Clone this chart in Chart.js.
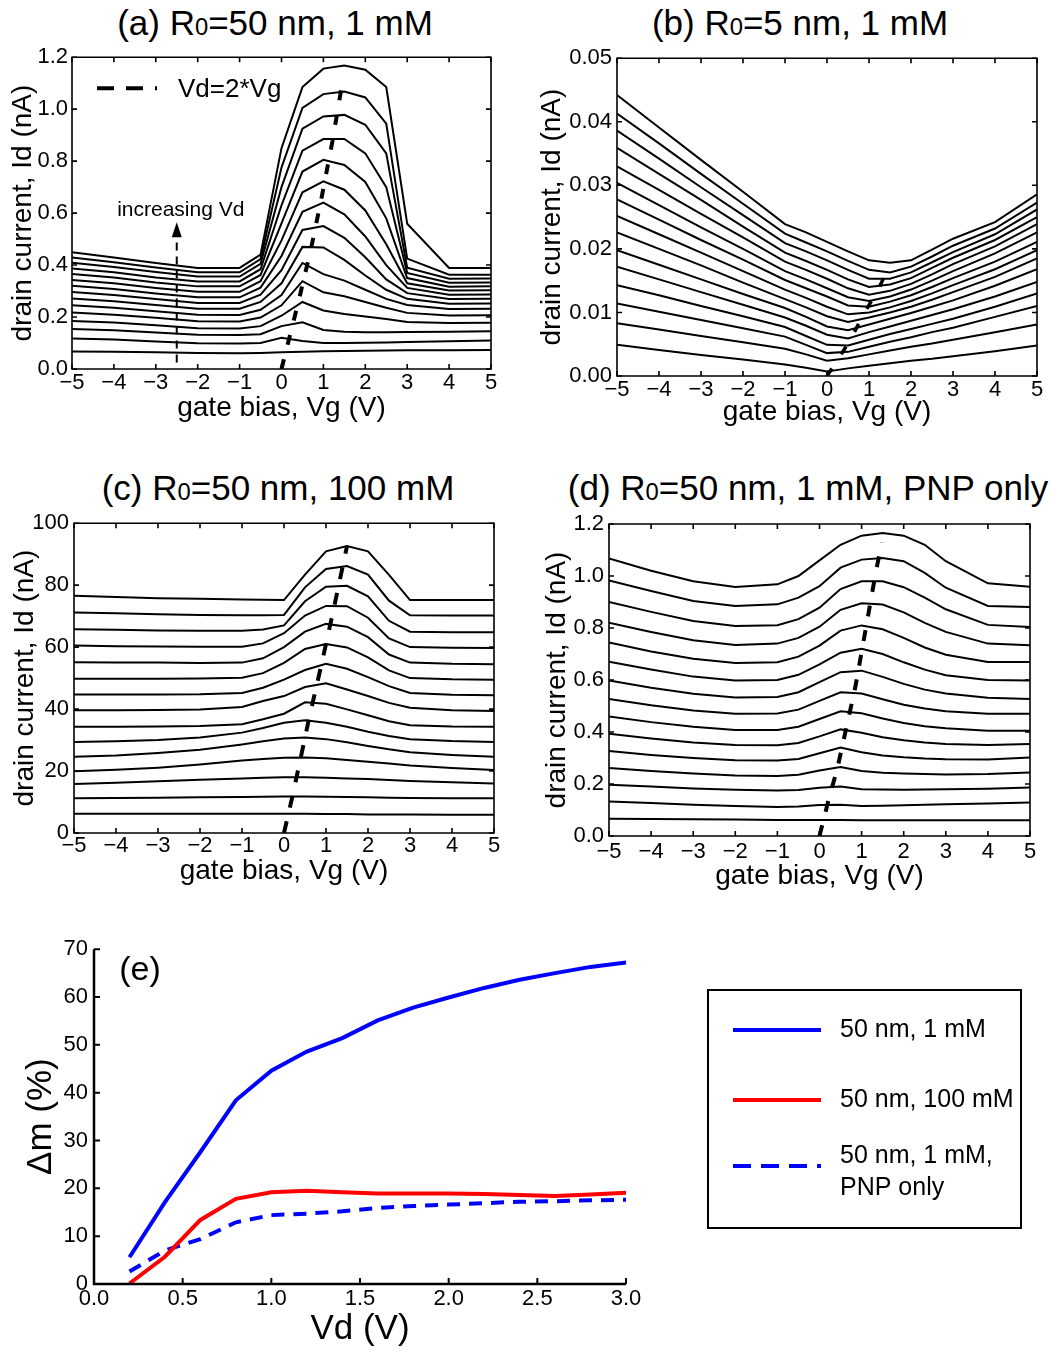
<!DOCTYPE html>
<html><head><meta charset="utf-8">
<script src="https://cdn.jsdelivr.net/npm/chart.js@4.4.1/dist/chart.umd.min.js"></script>
<style>
body{margin:0;background:#fff;width:1052px;height:1351px;position:relative;overflow:hidden;font-family:'Liberation Sans',Arial,sans-serif;color:#000;}
canvas{position:absolute;}
.title{position:absolute;font-size:35px;line-height:1;white-space:nowrap;transform:translate(-50%,-50%);}
.title span{font-size:0.68em;}
</style></head><body>
<div class="title" style="left:275px;top:22px">(a) R<span>0</span>=50 nm, 1 mM</div>
<div class="title" style="left:800px;top:22px">(b) R<span>0</span>=5 nm, 1 mM</div>
<div class="title" style="left:278px;top:487px">(c) R<span>0</span>=50 nm, 100 mM</div>
<div class="title" style="left:808px;top:487px">(d) R<span>0</span>=50 nm, 1 mM, PNP only</div>
<canvas id="ca" width="515" height="390" style="left:0;top:40px"></canvas>
<canvas id="cb" width="522" height="390" style="left:530px;top:40px"></canvas>
<canvas id="cc" width="515" height="385" style="left:0;top:505px"></canvas>
<canvas id="cd" width="522" height="390" style="left:530px;top:505px"></canvas>
<canvas id="ce" width="1052" height="421" style="left:0;top:930px"></canvas>
<script>
// ---------- data ----------
const vgGrid = [-5,-4,-3,-2,-1,-0.5,0,0.5,1,1.5,2,2.5,3,4,5];
const vgTicks = [-5,-4,-3,-2,-1,0,1,2,3,4,5];

// (a) R0=50 nm, 1 mM : drain current (nA), one row per Vd (0.2 ... 3.0 V)
const idA = [
 [0.067,0.066,0.064,0.062,0.061,0.062,0.064,0.066,0.068,0.069,0.070,0.071,0.072,0.072,0.073],
 [0.117,0.114,0.106,0.099,0.098,0.100,0.120,0.108,0.100,0.100,0.101,0.102,0.104,0.107,0.110],
 [0.154,0.149,0.140,0.132,0.131,0.134,0.165,0.180,0.150,0.143,0.141,0.141,0.142,0.143,0.145],
 [0.185,0.179,0.168,0.157,0.156,0.165,0.205,0.258,0.225,0.212,0.202,0.192,0.181,0.177,0.178],
 [0.217,0.209,0.197,0.184,0.183,0.198,0.245,0.338,0.295,0.280,0.258,0.236,0.216,0.206,0.207],
 [0.245,0.236,0.222,0.209,0.208,0.228,0.285,0.408,0.365,0.340,0.305,0.270,0.246,0.231,0.232],
 [0.271,0.261,0.246,0.232,0.232,0.258,0.330,0.470,0.468,0.420,0.360,0.305,0.270,0.251,0.252],
 [0.296,0.285,0.269,0.254,0.254,0.286,0.380,0.535,0.550,0.505,0.430,0.345,0.292,0.269,0.270],
 [0.320,0.308,0.291,0.276,0.276,0.313,0.435,0.605,0.640,0.595,0.510,0.400,0.312,0.286,0.287],
 [0.343,0.330,0.312,0.297,0.297,0.338,0.495,0.680,0.722,0.690,0.610,0.480,0.330,0.302,0.303],
 [0.366,0.352,0.333,0.318,0.318,0.362,0.560,0.760,0.805,0.785,0.720,0.580,0.350,0.317,0.318],
 [0.387,0.372,0.352,0.337,0.337,0.384,0.630,0.840,0.885,0.885,0.830,0.700,0.370,0.332,0.333],
 [0.409,0.393,0.373,0.356,0.356,0.405,0.700,0.925,0.972,0.978,0.940,0.830,0.390,0.347,0.348],
 [0.429,0.411,0.391,0.372,0.372,0.423,0.775,1.005,1.058,1.068,1.045,0.944,0.425,0.363,0.363],
 [0.449,0.429,0.408,0.389,0.389,0.440,0.850,1.085,1.156,1.168,1.152,1.085,0.559,0.389,0.389]
];
const dashVgA = [0, 0.4, 0.7, 0.95, 1.22, 1.46];
const dashIdA = [0, 0.256, 0.46, 0.654, 0.88, 1.11];

// (b) R0=5 nm, 1 mM
const idB = [
 [0.0049,0.0041,0.0033,0.0026,0.0018,0.0013,0.0007,0.0012,0.0016,0.0020,0.0024,0.0027,0.0031,0.0039,0.0048],
 [0.0083,0.0073,0.0063,0.0053,0.0043,0.0034,0.0024,0.0028,0.0034,0.0040,0.0046,0.0051,0.0057,0.0069,0.0081],
 [0.0114,0.0101,0.0088,0.0075,0.0062,0.0049,0.0036,0.0038,0.0046,0.0054,0.0061,0.0069,0.0076,0.0093,0.0110],
 [0.0143,0.0127,0.0110,0.0094,0.0077,0.0063,0.0049,0.0048,0.0057,0.0066,0.0074,0.0082,0.0090,0.0109,0.0130],
 [0.0172,0.0152,0.0132,0.0112,0.0092,0.0079,0.0065,0.0059,0.0069,0.0078,0.0087,0.0096,0.0105,0.0125,0.0148],
 [0.0198,0.0175,0.0152,0.0129,0.0107,0.0093,0.0078,0.0072,0.0081,0.0090,0.0099,0.0109,0.0119,0.0142,0.0168],
 [0.0226,0.0200,0.0174,0.0147,0.0121,0.0108,0.0094,0.0085,0.0092,0.0100,0.0109,0.0120,0.0132,0.0156,0.0185],
 [0.0252,0.0223,0.0194,0.0165,0.0136,0.0123,0.0109,0.0097,0.0100,0.0108,0.0118,0.0130,0.0143,0.0168,0.0198],
 [0.0278,0.0246,0.0214,0.0183,0.0151,0.0138,0.0125,0.0111,0.0109,0.0117,0.0127,0.0140,0.0154,0.0180,0.0211],
 [0.0304,0.0269,0.0234,0.0200,0.0165,0.0152,0.0138,0.0124,0.0118,0.0125,0.0136,0.0150,0.0165,0.0193,0.0226],
 [0.0330,0.0293,0.0255,0.0218,0.0180,0.0167,0.0153,0.0138,0.0128,0.0134,0.0145,0.0160,0.0176,0.0204,0.0239],
 [0.0359,0.0318,0.0277,0.0235,0.0194,0.0181,0.0167,0.0152,0.0140,0.0144,0.0154,0.0170,0.0186,0.0214,0.0250],
 [0.0386,0.0342,0.0297,0.0253,0.0209,0.0196,0.0182,0.0167,0.0153,0.0153,0.0163,0.0179,0.0195,0.0223,0.0262],
 [0.0413,0.0366,0.0318,0.0271,0.0224,0.0210,0.0196,0.0181,0.0167,0.0163,0.0172,0.0188,0.0205,0.0232,0.0273],
 [0.0442,0.0391,0.0340,0.0290,0.0239,0.0226,0.0211,0.0196,0.0182,0.0178,0.0182,0.0199,0.0216,0.0242,0.0286]
];
const dashVgB = [0, 0.55, 0.87, 1.22, 1.51];
const dashIdB = [0, 0.0056, 0.0097, 0.0136, 0.0177];

// (c) R0=50 nm, 100 mM
const idC = [
 [6.2,6.2,6.2,6.2,6.2,6.2,6.2,6.2,6.1,6.1,6.0,6.0,6.0,5.9,5.9],
 [11.2,11.3,11.4,11.5,11.6,11.7,11.8,11.8,11.7,11.6,11.5,11.4,11.3,11.2,11.2],
 [15.8,16.2,16.7,17.2,17.6,17.8,18.0,18.0,17.8,17.6,17.4,17.1,16.8,16.4,16.0],
 [19.9,20.4,21.1,22.1,23.4,23.9,24.3,24.4,24.1,23.6,23.0,22.4,21.8,21.0,20.3],
 [24.6,25.0,25.8,26.9,28.6,29.6,30.5,30.8,30.3,29.3,28.1,27.0,26.1,25.2,24.6],
 [29.4,29.6,30.0,30.8,32.4,33.9,35.6,36.4,35.6,34.3,32.7,31.3,30.3,29.7,29.4],
 [34.3,34.3,34.4,34.5,35.1,36.7,38.5,42.2,41.7,39.9,38.0,36.1,34.8,34.4,34.3],
 [39.6,39.6,39.7,39.9,40.7,42.6,44.2,47.1,48.3,46.3,44.2,42.0,40.4,39.6,39.4],
 [44.7,44.7,44.7,44.8,45.2,46.9,49.5,52.6,54.6,53.0,50.3,47.4,45.2,44.6,44.5],
 [49.8,49.8,49.8,49.9,50.1,51.6,54.9,59.4,61.0,59.9,56.7,52.5,50.0,49.6,49.5],
 [55.1,55.0,55.0,54.9,55.0,56.4,60.0,65.0,67.5,66.6,63.2,57.6,55.0,54.6,54.5],
 [60.5,60.3,60.2,60.1,60.1,61.2,64.5,70.2,73.3,73.2,69.5,62.8,60.0,59.8,59.7],
 [65.8,65.6,65.4,65.3,65.3,65.7,67.0,74.8,79.5,79.8,76.4,68.5,65.0,64.8,64.8],
 [71.2,70.9,70.6,70.4,70.3,70.3,70.4,79.3,85.2,86.2,83.4,75.0,70.3,70.2,70.2],
 [76.6,76.2,75.8,75.6,75.4,75.3,75.2,83.4,90.9,92.6,90.9,83.3,75.2,75.2,75.2]
];
const dashVgC = [0, 0.2, 0.4, 0.6, 0.9, 1.2, 1.5];
const dashIdC = [0, 11.8, 24.4, 37.2, 54.9, 73.4, 92.6];

// (d) R0=50 nm, 1 mM, PNP only
const idD = [
 [0.066,0.065,0.064,0.063,0.062,0.062,0.062,0.062,0.061,0.061,0.061,0.061,0.061,0.061,0.061],
 [0.133,0.127,0.120,0.115,0.112,0.113,0.119,0.120,0.115,0.116,0.118,0.120,0.122,0.125,0.129],
 [0.197,0.190,0.183,0.178,0.175,0.177,0.186,0.190,0.180,0.179,0.178,0.179,0.180,0.182,0.187],
 [0.262,0.250,0.240,0.233,0.231,0.236,0.252,0.265,0.250,0.243,0.240,0.238,0.237,0.238,0.244],
 [0.327,0.312,0.300,0.291,0.290,0.296,0.318,0.340,0.322,0.310,0.303,0.298,0.295,0.294,0.302],
 [0.393,0.375,0.360,0.350,0.349,0.358,0.383,0.410,0.397,0.380,0.368,0.360,0.354,0.350,0.354],
 [0.460,0.438,0.420,0.408,0.408,0.420,0.450,0.480,0.472,0.452,0.435,0.422,0.414,0.405,0.405],
 [0.527,0.503,0.483,0.470,0.471,0.486,0.520,0.553,0.548,0.526,0.505,0.490,0.480,0.470,0.470],
 [0.598,0.570,0.547,0.533,0.535,0.553,0.592,0.630,0.636,0.612,0.585,0.563,0.548,0.532,0.527],
 [0.670,0.640,0.613,0.598,0.600,0.620,0.660,0.705,0.720,0.700,0.668,0.640,0.618,0.600,0.598],
 [0.744,0.710,0.682,0.665,0.668,0.690,0.732,0.790,0.810,0.795,0.762,0.725,0.697,0.669,0.669],
 [0.820,0.785,0.753,0.735,0.740,0.762,0.805,0.870,0.895,0.890,0.860,0.820,0.785,0.740,0.734],
 [0.900,0.862,0.827,0.808,0.811,0.834,0.878,0.950,0.980,0.980,0.957,0.917,0.872,0.812,0.804],
 [0.983,0.942,0.904,0.885,0.891,0.917,0.961,1.032,1.063,1.069,1.057,1.012,0.955,0.885,0.881],
 [1.067,1.020,0.980,0.958,0.968,1.000,1.060,1.120,1.155,1.165,1.155,1.120,1.057,0.972,0.959]
];
const dashVgD = [0, 0.23, 0.42, 0.57, 0.85, 1.1, 1.34, 1.48];
const dashIdD = [0, 0.148, 0.257, 0.367, 0.572, 0.798, 1.017, 1.129];

// (e) modulation vs drain bias
const vdE = [0.2,0.4,0.6,0.8,1.0,1.2,1.4,1.6,1.8,2.0,2.2,2.4,2.6,2.8,3.0];
const dm50_1 = [5.6,17.1,27.6,38.4,44.6,48.6,51.4,55.1,57.8,59.9,61.9,63.6,65.0,66.3,67.2];
const dm50_100 = [0.1,5.7,13.4,17.8,19.2,19.5,19.2,18.9,18.9,18.9,18.8,18.6,18.4,18.7,19.1];
const dm50_1pnp = [2.6,7.0,9.4,12.9,14.4,14.7,15.2,15.9,16.3,16.6,16.9,17.2,17.3,17.5,17.6];
const legendE = ['50 nm, 1 mM', '50 nm, 100 mM', ['50 nm, 1 mM,', 'PNP only']];

// ---------- helpers ----------
const FONT = "'Liberation Sans', Arial, sans-serif";
Chart.defaults.font.family = FONT;
Chart.defaults.color = '#000';

const framePlugin = {
  id: 'frame',
  afterDatasetsDraw(chart, args, o) {
    const {ctx, chartArea: a, scales: {x, y}} = chart;
    ctx.save();
    ctx.strokeStyle = '#000';
    ctx.lineWidth = o.lineWidth;
    ctx.setLineDash([]);
    ctx.beginPath();
    if (o.box) {
      ctx.rect(a.left, a.top, a.right - a.left, a.bottom - a.top);
    } else {
      ctx.moveTo(a.left, a.top); ctx.lineTo(a.left, a.bottom); ctx.lineTo(a.right, a.bottom);
    }
    ctx.stroke();
    const L = o.tick;
    ctx.lineWidth = o.tickWidth;
    ctx.beginPath();
    x.ticks.forEach(t => {
      const p = x.getPixelForValue(t.value);
      ctx.moveTo(p, a.bottom); ctx.lineTo(p, a.bottom - L);
      if (o.box) { ctx.moveTo(p, a.top); ctx.lineTo(p, a.top + L); }
    });
    y.ticks.forEach(t => {
      const p = y.getPixelForValue(t.value);
      ctx.moveTo(a.left, p); ctx.lineTo(a.left + L, p);
      if (o.box) { ctx.moveTo(a.right, p); ctx.lineTo(a.right - L, p); }
    });
    ctx.stroke();
    ctx.restore();
  }
};
Chart.register(framePlugin);

const minusFmt = v => (v < 0 ? '\u2212' + Math.abs(v) : String(v));

function curveSets(grid, rows) {
  return rows.map(r => ({
    data: grid.map((v, j) => ({x: v, y: r[j]})),
    borderColor: '#000', borderWidth: 2, pointRadius: 0, tension: 0, fill: false
  }));
}
function dashSet(vg, id, w, dash) {
  return {
    data: vg.map((v, j) => ({x: v, y: id[j]})),
    borderColor: '#000', borderWidth: w, borderDash: dash, borderCapStyle: 'butt',
    pointRadius: 0, tension: 0, fill: false
  };
}

function panel(id, rows, dv, di, p, extraPlugins) {
  const ds = curveSets(vgGrid, rows);
  ds.push(dashSet(dv, di, p.dashW, p.dash));
  return new Chart(document.getElementById(id), {
    type: 'line',
    data: {datasets: ds},
    plugins: extraPlugins || [],
    options: {
      responsive: false, animation: false, devicePixelRatio: 1,
      layout: {padding: {left: 0, top: p.padTop, right: p.padRight, bottom: 0}},
      plugins: {legend: {display: false}, tooltip: {enabled: false},
                frame: {box: true, tick: 5, lineWidth: 1.6, tickWidth: 1.6}},
      scales: {
        x: {
          type: 'linear', min: -5, max: 5,
          afterBuildTicks: s => { s.ticks = vgTicks.map(v => ({value: v})); },
          ticks: {padding: p.xTickPad, font: {size: 22}, color: '#000', callback: minusFmt, maxRotation: 0, autoSkip: false},
          grid: {display: false, drawTicks: false}, border: {display: false},
          title: {display: true, text: 'gate bias, Vg (V)', font: {size: 28}, color: '#000', padding: {top: 0, bottom: p.xTitlePad}},
          afterFit: s => { s.height = p.xH; }
        },
        y: {
          type: 'linear', min: p.yMin, max: p.yMax,
          afterBuildTicks: s => { s.ticks = p.yTicks.map(v => ({value: v})); },
          ticks: {padding: p.yTickPad, font: {size: 22}, color: '#000', callback: p.yFmt, autoSkip: false},
          grid: {display: false, drawTicks: false}, border: {display: false},
          title: {display: true, text: 'drain current, Id (nA)', font: {size: 28}, color: '#000', padding: {top: p.yTitlePad, bottom: 0}},
          afterFit: s => { s.width = p.yW; }
        }
      }
    }
  });
}

// annotations of panel (a)
const annotA = {
  id: 'annotA',
  afterDraw(chart) {
    const {ctx, chartArea: a, scales: {x, y}} = chart;
    ctx.save();
    // legend sample for the dashed line
    ctx.strokeStyle = '#000'; ctx.lineWidth = 4; ctx.setLineDash([17, 12]);
    ctx.beginPath(); ctx.moveTo(a.left + 25, a.top + 31); ctx.lineTo(a.left + 85, a.top + 31); ctx.stroke();
    ctx.setLineDash([]);
    ctx.fillStyle = '#000'; ctx.font = '26px ' + FONT; ctx.textBaseline = 'middle'; ctx.textAlign = 'left';
    ctx.fillText('Vd=2*Vg', a.left + 106, a.top + 33);
    // arrow "increasing Vd"
    const ax = x.getPixelForValue(-2.5);
    const y0 = y.getPixelForValue(0.025), y1 = y.getPixelForValue(0.505);
    ctx.lineWidth = 2; ctx.setLineDash([8, 6]);
    ctx.beginPath(); ctx.moveTo(ax, y0); ctx.lineTo(ax, y1); ctx.stroke();
    ctx.setLineDash([]);
    const tip = y.getPixelForValue(0.565);
    ctx.beginPath(); ctx.moveTo(ax, tip); ctx.lineTo(ax - 5, tip + 15); ctx.lineTo(ax + 5, tip + 15); ctx.closePath(); ctx.fill();
    ctx.font = '21px ' + FONT; ctx.textAlign = 'center';
    ctx.fillText('increasing Vd', ax + 4, a.top + 153);
    ctx.restore();
  }
};

panel('ca', idA, dashVgA, dashIdA, {
  padTop: 12, padRight: 24, yW: 72, xH: 61, xTickPad: 1, xTitlePad: 5, yTickPad: 4, yTitlePad: 6,
  yMin: 0, yMax: 1.2, yTicks: [0, 0.2, 0.4, 0.6, 0.8, 1.0, 1.2], yFmt: v => v.toFixed(1),
  dashW: 4, dash: [10, 15]
}, [annotA]);

panel('cb', idB, dashVgB, dashIdB, {
  padTop: 14, padRight: 15, yW: 87, xH: 54, xTickPad: 1, xTitlePad: 1, yTickPad: 5, yTitlePad: 5,
  yMin: 0, yMax: 0.05, yTicks: [0, 0.01, 0.02, 0.03, 0.04, 0.05], yFmt: v => v.toFixed(2),
  dashW: 3.5, dash: [9, 17]
});

panel('cc', idC, dashVgC, dashIdC, {
  padTop: 16, padRight: 21, yW: 74, xH: 57, xTickPad: 0, xTitlePad: 2, yTickPad: 5, yTitlePad: 8,
  yMin: 0, yMax: 100, yTicks: [0, 20, 40, 60, 80, 100], yFmt: v => String(Math.round(v)),
  dashW: 4, dash: [12, 14]
});

panel('cd', idD, dashVgD, dashIdD, {
  padTop: 19, padRight: 22, yW: 79, xH: 59, xTickPad: 3, xTitlePad: 2, yTickPad: 5, yTitlePad: 10,
  yMin: 0, yMax: 1.2, yTicks: [0, 0.2, 0.4, 0.6, 0.8, 1.0, 1.2], yFmt: v => v.toFixed(1),
  dashW: 4, dash: [11, 14]
});

// ---------- panel (e) ----------
const annotE = {
  id: 'annotE',
  afterDraw(chart) {
    const {ctx, chartArea: a} = chart;
    ctx.save();
    ctx.fillStyle = '#000';
    ctx.font = '34px ' + FONT; ctx.textAlign = 'center'; ctx.textBaseline = 'middle';
    ctx.fillText('(e)', a.left + 46, a.top + 21);
    // legend box
    const bx = 708, by = 60, bw = 313, bh = 238;
    ctx.lineWidth = 2; ctx.strokeStyle = '#000';
    ctx.strokeRect(bx, by, bw, bh);
    const rows = [
      {c: '#0000ff', d: [], yy: by + 40, t: legendE[0]},
      {c: '#ff0000', d: [], yy: by + 110, t: legendE[1]},
      {c: '#0000ff', d: [18, 10], yy: by + 176, t: legendE[2]}
    ];
    ctx.font = '25px ' + FONT; ctx.textAlign = 'left';
    rows.forEach(r => {
      ctx.strokeStyle = r.c; ctx.lineWidth = 4; ctx.setLineDash(r.d);
      ctx.beginPath(); ctx.moveTo(bx + 25, r.yy); ctx.lineTo(bx + 113, r.yy); ctx.stroke();
      ctx.setLineDash([]);
      if (Array.isArray(r.t)) {
        ctx.fillText(r.t[0], bx + 132, r.yy - 10);
        ctx.fillText(r.t[1], bx + 132, r.yy + 22);
      } else {
        ctx.fillText(r.t, bx + 132, r.yy);
      }
    });
    ctx.restore();
  }
};

new Chart(document.getElementById('ce'), {
  type: 'line',
  data: {datasets: [
    {data: vdE.map((v, j) => ({x: v, y: dm50_100[j]})), borderColor: '#ff0000', borderWidth: 4, pointRadius: 0, tension: 0, fill: false, clip: false, order: 1},
    {data: vdE.map((v, j) => ({x: v, y: dm50_1[j]})), borderColor: '#0000ff', borderWidth: 4, pointRadius: 0, tension: 0, fill: false, clip: false, order: 0},
    {data: vdE.map((v, j) => ({x: v, y: dm50_1pnp[j]})), borderColor: '#0000ff', borderWidth: 4, borderDash: [13, 9], borderCapStyle: 'butt', pointRadius: 0, tension: 0, fill: false, clip: false, order: 2}
  ]},
  plugins: [annotE],
  options: {
    responsive: false, animation: false, devicePixelRatio: 1,
    layout: {padding: {left: 0, top: 18, right: 426, bottom: 0}},
    plugins: {legend: {display: false}, tooltip: {enabled: false},
              frame: {box: false, tick: 6, lineWidth: 2.5, tickWidth: 2}},
    scales: {
      x: {
        type: 'linear', min: 0, max: 3,
        afterBuildTicks: s => { s.ticks = [0, 0.5, 1, 1.5, 2, 2.5, 3].map(v => ({value: v})); },
        ticks: {padding: 2, font: {size: 22}, color: '#000', callback: v => v.toFixed(1), maxRotation: 0, autoSkip: false},
        grid: {display: false, drawTicks: false}, border: {display: false},
        title: {display: true, text: 'Vd (V)', font: {size: 35}, color: '#000', padding: {top: 0, bottom: 1}},
        afterFit: s => { s.height = 67; }
      },
      y: {
        type: 'linear', min: 0, max: 70,
        afterBuildTicks: s => { s.ticks = [0, 10, 20, 30, 40, 50, 60, 70].map(v => ({value: v})); },
        ticks: {padding: 6, font: {size: 22}, color: '#000', callback: v => String(v), autoSkip: false},
        grid: {display: false, drawTicks: false}, border: {display: false},
        title: {display: true, text: '\u0394m (%)', font: {size: 35}, color: '#000', padding: {top: 20, bottom: 0}},
        afterFit: s => { s.width = 94; }
      }
    }
  }
});
</script>
</body></html>
